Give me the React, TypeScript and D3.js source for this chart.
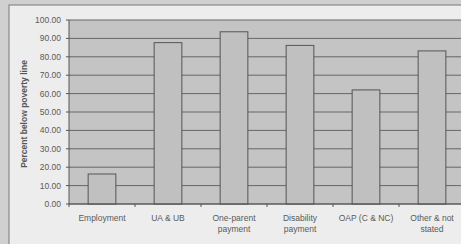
import React from 'react';
import * as d3 from 'd3';

const categories = ['Employment', 'UA & UB', 'One-parent payment', 'Disability payment', 'OAP (C & NC)', 'Other & not stated'];
const labelLines = [['Employment'], ['UA & UB'], ['One-parent', 'payment'], ['Disability', 'payment'], ['OAP (C & NC)'], ['Other & not', 'stated']];
const values = [16.3, 87.7, 93.6, 86.2, 62.0, 83.2];
const yTicks = [0, 10, 20, 30, 40, 50, 60, 70, 80, 90, 100];

const W = 461;
const H = 244;
const left = 69;
const right = 465;
const top = 20;
const bottom = 204;

const App: React.FC = () => {
  const x = d3.scaleBand<string>().domain(categories).range([left, right]).paddingInner(0.58).paddingOuter(0.29);
  const xb = d3.scaleBand<string>().domain(categories).range([left, right]);
  const y = d3.scaleLinear().domain([0, 100]).range([bottom, top]);
  const font = '"Liberation Sans", Arial, sans-serif';

  return (
    <svg width={W} height={H} style={{ position: 'absolute', left: 0, top: 0, display: 'block' }}>
      <rect x={0} y={0} width={W} height={H} fill="#d0d0d0" />
      <rect x={9} y={5} width={W} height={H} fill="#ededed" stroke="#8a8a8a" strokeWidth={1.2} />
      <rect x={left} y={top} width={right - left} height={bottom - top} fill="#c4c4c4" />
      {yTicks.map(t => (
        <line key={t} x1={left} x2={right} y1={y(t)} y2={y(t)} stroke="#666" strokeWidth={1} />
      ))}
      {categories.map((c, i) => (
        <rect key={c} x={x(c)} y={y(values[i])} width={x.bandwidth()} height={bottom - y(values[i])}
          fill="#c0c0c0" stroke="#555" strokeWidth={1} />
      ))}
      <line x1={left} x2={left} y1={top} y2={bottom} stroke="#555" />
      <line x1={left} x2={right} y1={bottom} y2={bottom} stroke="#555" />
      {yTicks.map(t => (
        <g key={'yt' + t}>
          <line x1={left - 3} x2={left} y1={y(t)} y2={y(t)} stroke="#555" />
          <text x={left - 8} y={y(t) + 3} textAnchor="end" fontFamily={font} fontSize={8.5} fill="#5a5a5a">
            {t.toFixed(2)}
          </text>
        </g>
      ))}
      {categories.map((c, i) => (
        <g key={'xt' + c}>
          <line x1={xb(c)!} x2={xb(c)!} y1={bottom} y2={bottom + 3} stroke="#555" />
          {labelLines[i].map((s, j) => (
            <text key={s} x={xb(c)! + xb.bandwidth() / 2} y={221 + j * 11} textAnchor="middle"
              fontFamily={font} fontSize={8.5} fill="#5a5a5a">{s}</text>
          ))}
        </g>
      ))}
      <text transform={`translate(27,${(top + bottom) / 2 + 2}) rotate(-90)`} textAnchor="middle"
        fontFamily={font} fontSize={8.5} fontWeight="bold" fill="#555">Percent below poverty line</text>
    </svg>
  );
};

export default App;
